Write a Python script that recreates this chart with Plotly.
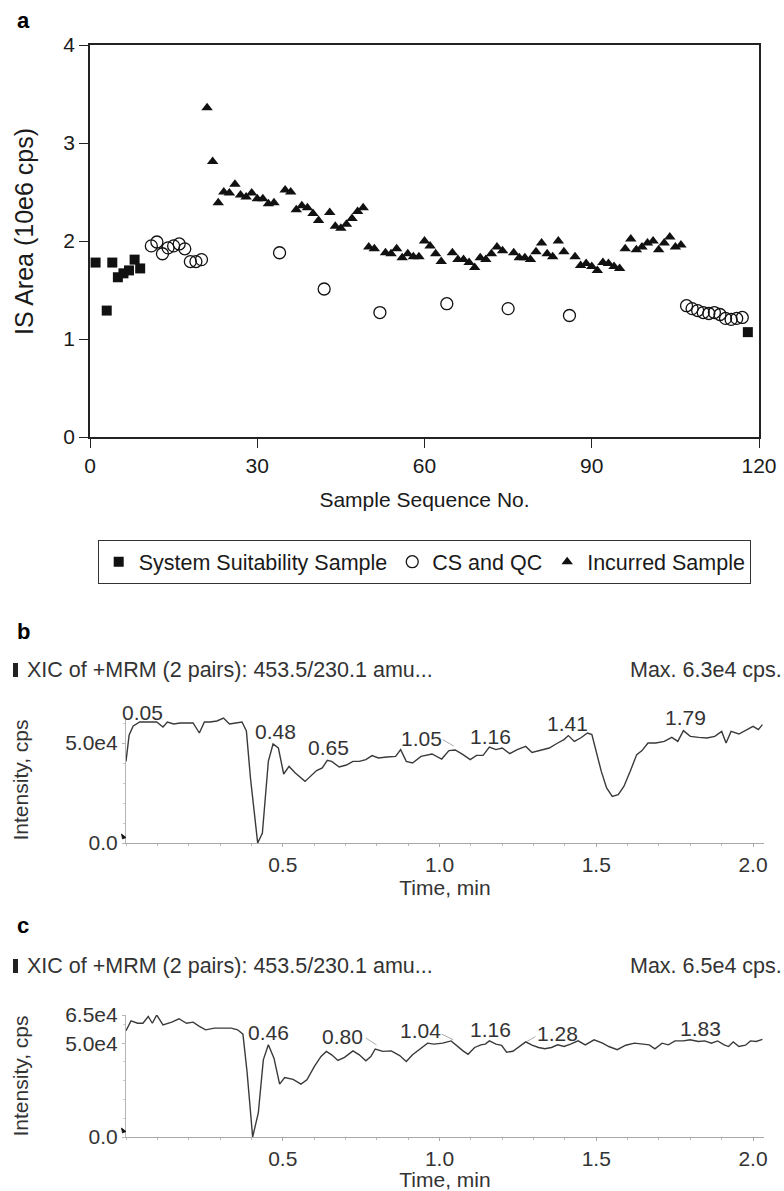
import plotly.graph_objects as go

W, H = 784, 1191

# ---------------- Panel a data ----------------
ss_x = [1, 3, 4, 5, 6, 7, 8, 9, 118]
ss_y = [1.78, 1.29, 1.78, 1.63, 1.67, 1.70, 1.81, 1.72, 1.07]

cs_x = [11, 12, 13, 14, 15, 16, 17, 18, 19, 20, 34, 42, 52, 64, 75, 86,
        107, 108, 109, 110, 111, 112, 113, 114, 115, 116, 117]
cs_y = [1.95, 1.99, 1.87, 1.93, 1.95, 1.97, 1.92, 1.79, 1.79, 1.81, 1.88, 1.51, 1.27, 1.36, 1.31, 1.24,
        1.34, 1.31, 1.29, 1.27, 1.26, 1.27, 1.25, 1.21, 1.20, 1.21, 1.22]

inc_x = [21, 22, 23, 24, 25, 26, 27, 28, 29, 30, 31, 32, 33,
         35, 36, 37, 38, 39, 40, 41, 43, 44, 45, 46, 47, 48, 49, 50, 51,
         53, 54, 55, 56, 57, 58, 59, 60, 61, 62, 63,
         65, 66, 67, 68, 69, 70, 71, 72, 73, 74,
         76, 77, 78, 79, 80, 81, 82, 83, 84, 85,
         87, 88, 89, 90, 91, 92, 93, 94, 95, 96, 97, 98, 99, 100, 101, 102, 103, 104, 105, 106]
inc_y = [3.36, 2.81, 2.39, 2.50, 2.49, 2.58, 2.47, 2.45, 2.49, 2.43, 2.43, 2.38, 2.39,
         2.52, 2.50, 2.32, 2.36, 2.34, 2.28, 2.21, 2.29, 2.15, 2.13, 2.17, 2.23, 2.30, 2.34, 1.94, 1.92,
         1.88, 1.87, 1.92, 1.83, 1.87, 1.84, 1.84, 2.00, 1.95, 1.87, 1.79,
         1.88, 1.81, 1.81, 1.78, 1.73, 1.83, 1.81, 1.87, 1.94, 1.90,
         1.88, 1.83, 1.83, 1.81, 1.89, 1.98, 1.87, 1.84, 2.00, 1.89,
         1.84, 1.75, 1.77, 1.74, 1.70, 1.78, 1.77, 1.74, 1.72, 1.92, 2.02, 1.91, 1.94, 1.98, 2.00, 1.91, 1.98, 2.04, 1.94, 1.96]

a_xticks = [0, 30, 60, 90, 120]
a_yticks = [0, 1, 2, 3, 4]

# ---------------- Panel b data (time, min / intensity, cps) ----------------
b_t = [0.0, 0.01, 0.023, 0.044, 0.071, 0.098, 0.118, 0.132, 0.152, 0.173, 0.193, 0.214, 0.234, 0.25,
       0.268, 0.29, 0.311, 0.33, 0.35, 0.37, 0.384, 0.397, 0.42, 0.435, 0.454, 0.469, 0.486, 0.503,
       0.52, 0.54, 0.571, 0.588, 0.608, 0.626, 0.642, 0.656, 0.68, 0.703, 0.724, 0.744, 0.765, 0.785,
       0.805, 0.833, 0.86, 0.876, 0.894, 0.914, 0.941, 0.976, 1.007, 1.03, 1.05, 1.075, 1.098, 1.118,
       1.139, 1.159, 1.18, 1.2, 1.224, 1.248, 1.275, 1.295, 1.322, 1.35, 1.377, 1.397, 1.411, 1.43,
       1.45, 1.472, 1.486, 1.5, 1.516, 1.533, 1.551, 1.57, 1.588, 1.608, 1.629, 1.646, 1.665, 1.69,
       1.717, 1.741, 1.76, 1.778, 1.8, 1.827, 1.853, 1.878, 1.9, 1.914, 1.93, 1.955, 1.98, 2.0, 2.017, 2.03]
b_i = [40800, 54000, 58500, 60500, 60500, 60500, 58000, 60500, 59500, 60000, 60000, 60000, 55000, 60500,
       60500, 61000, 62500, 59500, 60000, 60500, 56000, 32500, 0, 5000, 40800, 49500, 47500, 34500,
       38300, 35000, 30800, 33300, 36200, 37500, 41300, 40800, 38000, 39000, 40800, 40800, 41700, 43700,
       42500, 43000, 43300, 46700, 40800, 40000, 43300, 44500, 42000, 46200, 46500, 44200, 41700, 43800,
       43800, 48000, 46700, 47500, 44700, 46700, 48300, 45300, 46200, 47500, 50000, 51700, 53700, 50800,
       52500, 55000, 54200, 45800, 35800, 27500, 23300, 24200, 28300, 35800, 44200, 46200, 50000, 50000,
       50800, 52800, 50800, 56200, 53300, 52800, 52500, 53300, 55800, 50000, 55800, 54500, 56700, 58300, 56700, 59200]
b_peak_t = [0.054, 0.476, 0.647, 0.944, 1.163, 1.408, 1.785]
b_peak_i = [65500, 55800, 47700, 52500, 53300, 60000, 62800]
b_peak_txt = ["0.05", "0.48", "0.65", "1.05", "1.16", "1.41", "1.79"]
b_top = 63000
b_yticks = [0, 50000]
b_yticktext = ["0.0", "5.0e4"]

# ---------------- Panel c data ----------------
c_t = [0.0, 0.016, 0.037, 0.054, 0.071, 0.084, 0.098, 0.118, 0.146, 0.169, 0.193, 0.214, 0.234, 0.254,
       0.282, 0.309, 0.336, 0.356, 0.373, 0.386, 0.404, 0.422, 0.438, 0.454, 0.472, 0.49, 0.506, 0.533,
       0.558, 0.577, 0.601, 0.622, 0.639, 0.656, 0.676, 0.697, 0.724, 0.744, 0.765, 0.781, 0.795, 0.819,
       0.846, 0.873, 0.894, 0.914, 0.941, 0.962, 0.982, 1.01, 1.037, 1.057, 1.075, 1.091, 1.112, 1.132,
       1.146, 1.159, 1.18, 1.198, 1.214, 1.234, 1.255, 1.275, 1.295, 1.316, 1.336, 1.357, 1.377, 1.397,
       1.418, 1.442, 1.465, 1.493, 1.52, 1.54, 1.567, 1.594, 1.622, 1.649, 1.669, 1.687, 1.71, 1.73,
       1.751, 1.778, 1.799, 1.826, 1.846, 1.867, 1.887, 1.908, 1.922, 1.937, 1.955, 1.976, 1.992, 2.01, 2.03]
c_i = [56600, 61900, 60600, 60600, 64200, 60600, 65000, 59700, 61200, 63000, 60600, 61200, 58900, 57100,
       58000, 58000, 58000, 57100, 54800, 34900, 0, 12800, 41100, 49100, 42000, 28200, 31700, 30700,
       28200, 30500, 37600, 42900, 45600, 43800, 40800, 42400, 45900, 43800, 40600, 42900, 46900, 45600,
       45900, 43400, 40200, 43800, 47300, 50000, 49500, 50000, 51200, 48200, 45900, 44100, 47700, 49100,
       49500, 51200, 49500, 48800, 45200, 45700, 48400, 50700, 48900, 47700, 47000, 47700, 49100, 48200,
       49500, 51200, 49100, 51800, 50000, 48200, 46500, 48900, 50000, 49500, 49100, 47000, 50000, 49100,
       51200, 51200, 51800, 50900, 51200, 50000, 51200, 49100, 48200, 50700, 48200, 48900, 51200, 50900, 52000]
c_peak_t = [0.454, 0.692, 0.939, 1.163, 1.377, 1.833]
c_peak_i = [55500, 53500, 56600, 57100, 55300, 58000]
c_peak_txt = ["0.46", "0.80", "1.04", "1.16", "1.28", "1.83"]
c_top = 65000
c_yticks = [0, 50000, 65000]
c_yticktext = ["0.0", "5.0e4", "6.5e4"]

time_ticks = [0.5, 1.0, 1.5, 2.0]
time_ticktext = ["0.5", "1.0", "1.5", "2.0"]

# leader lines (label -> peak) for the chromatograms
b_leaders = [((1.01, 51700), (1.045, 48500))]
c_leaders = [((0.765, 52700), (0.799, 49100)), ((1.007, 54800), (1.044, 51800)), ((1.279, 50900), (1.306, 53500))]

header_txt = "XIC of +MRM (2 pairs): 453.5/230.1 amu..."
b_max_txt = "Max. 6.3e4 cps."
c_max_txt = "Max. 6.5e4 cps."

FONT = "Liberation Sans, Arial, Helvetica, sans-serif"
TXT = "#1a1a1a"
GRAY = "#333333"

# pixel layout of the three panels
A_X0, A_X1, A_Y0, A_Y1 = 90, 759, 45, 437
C_X0, C_X1 = 126, 764
B_Y0, B_Y1 = 717, 843
CC_Y0, CC_Y1 = 1015, 1137


def px(x):
    return x / W


def py(y):
    return 1 - y / H


fig = go.Figure()
fig.add_trace(go.Scatter(x=ss_x, y=ss_y, mode="markers", name="System Suitability Sample",
                         marker=dict(symbol="square", size=10, color="#111111"), xaxis="x", yaxis="y"))
fig.add_trace(go.Scatter(x=cs_x, y=cs_y, mode="markers", name="CS and QC",
                         marker=dict(symbol="circle-open", size=12, color="#111111", line=dict(width=1.3)),
                         xaxis="x", yaxis="y"))
fig.add_trace(go.Scatter(x=inc_x, y=inc_y, mode="markers", name="Incurred Sample",
                         marker=dict(symbol="triangle-up", size=10, color="#111111"), xaxis="x", yaxis="y"))
fig.add_trace(go.Scatter(x=b_t, y=b_i, mode="lines", line=dict(color="#3a3a3a", width=1.4),
                         xaxis="x2", yaxis="y2", showlegend=False, hoverinfo="skip"))
fig.add_trace(go.Scatter(x=c_t, y=c_i, mode="lines", line=dict(color="#3a3a3a", width=1.4),
                         xaxis="x3", yaxis="y3", showlegend=False, hoverinfo="skip"))

axis_a = dict(showline=True, linecolor="#222222", linewidth=1.5, mirror=True, ticks="outside",
              ticklen=9, tickwidth=1.3, tickcolor="#222222", showgrid=False, zeroline=False,
              tickfont=dict(size=21, color=TXT, family=FONT), automargin=False)

fig.update_layout(
    width=W, height=H, margin=dict(l=0, r=0, t=0, b=0),
    paper_bgcolor="white", plot_bgcolor="white",
    font=dict(family=FONT, color=TXT),
    xaxis=dict(axis_a, domain=[px(A_X0), px(A_X1)], range=[0, 120], tickmode="array", tickvals=a_xticks,
               anchor="y", title=dict(text="Sample Sequence No.", font=dict(size=21, color=TXT), standoff=16)),
    yaxis=dict(axis_a, domain=[py(A_Y1), py(A_Y0)], range=[0, 4], tickmode="array", tickvals=a_yticks,
               anchor="x"),
    legend=dict(orientation="h", x=px((A_X0 + A_X1) / 2), xanchor="center", y=py(540), yanchor="top",
                bordercolor="#333333", borderwidth=1.2, font=dict(size=21.5, color=TXT, family=FONT),
                itemclick=False, bgcolor="white", itemwidth=30),
)


def chrom_x(anchor):
    return dict(domain=[px(C_X0), px(C_X1)], range=[0, 2.035], anchor=anchor, tickmode="array",
                tickvals=time_ticks, ticktext=time_ticktext, showline=True, linecolor="#a8a8a8",
                linewidth=1.2, ticks="outside", ticklen=3, tickcolor="#a8a8a8", showgrid=False,
                zeroline=False, minor=dict(dtick=0.1, tick0=0, ticks="outside", ticklen=2, tickcolor="#bbbbbb"),
                tickfont=dict(size=21, color=GRAY, family=FONT), automargin=False,
                title=dict(text="Time, min", font=dict(size=21, color=GRAY), standoff=3))


def chrom_y(y0, y1, anchor, top, vals, txt):
    return dict(domain=[py(y1), py(y0)], range=[0, top], anchor=anchor, tickmode="array", tickvals=vals,
                ticktext=txt, showline=True, linecolor="#b5b5b5", linewidth=1.2, ticks="outside", ticklen=3,
                tickcolor="#b5b5b5", showgrid=False, zeroline=False,
                minor=dict(dtick=10000, tick0=0, ticks="outside", ticklen=2, tickcolor="#cccccc"),
                tickfont=dict(size=21, color=GRAY, family=FONT), automargin=False,
                title=dict(text="Intensity, cps", font=dict(size=21, color=GRAY), standoff=30))


fig.update_layout(
    xaxis2=chrom_x("y2"),
    yaxis2=chrom_y(B_Y0, B_Y1, "x2", b_top, b_yticks, b_yticktext),
    xaxis3=chrom_x("y3"),
    yaxis3=chrom_y(CC_Y0, CC_Y1, "x3", c_top, c_yticks, c_yticktext),
)

ann = []
# y-axis title of panel a (placed as rotated text to match the original position)
ann.append(dict(text="IS Area (10e6 cps)", x=px(24), y=py(232), xref="paper", yref="paper",
                textangle=-90, showarrow=False, xanchor="center", yanchor="middle",
                font=dict(size=25, color=TXT)))
for lab, yy in [("a", 20), ("b", 631), ("c", 925)]:
    ann.append(dict(text="<b>%s</b>" % lab, x=px(15), y=py(yy), xref="paper", yref="paper",
                    xanchor="left", yanchor="middle", showarrow=False, font=dict(size=22, color="#000")))
for yy, mtxt in [(670, b_max_txt), (966, c_max_txt)]:
    ann.append(dict(text=header_txt, x=px(25), y=py(yy), xref="paper", yref="paper", xanchor="left",
                    yanchor="middle", showarrow=False, font=dict(size=21.5, color=GRAY)))
    ann.append(dict(text=mtxt, x=px(784), y=py(yy), xref="paper", yref="paper", xanchor="right",
                    yanchor="middle", showarrow=False, font=dict(size=21.5, color=GRAY)))


def peak_labels(ts, ints, txts, xref, yref, top, y0, y1):
    ppu = (y1 - y0) / top  # pixels per cps
    out = []
    for t, i, s in zip(ts, ints, txts):
        yy = min(i, top)
        out.append(dict(text=s, x=t, y=yy, yshift=(i - yy) * ppu, xref=xref, yref=yref, showarrow=False,
                        font=dict(size=21, color=GRAY)))
    return out


ann += peak_labels(b_peak_t, b_peak_i, b_peak_txt, "x2", "y2", b_top, B_Y0, B_Y1)
ann += peak_labels(c_peak_t, c_peak_i, c_peak_txt, "x3", "y3", c_top, CC_Y0, CC_Y1)

shapes = []
for (p0, p1) in b_leaders:
    shapes.append(dict(type="line", xref="x2", yref="y2", x0=p0[0], y0=p0[1], x1=p1[0], y1=p1[1],
                       line=dict(color="#aaaaaa", width=1)))
for (p0, p1) in c_leaders:
    shapes.append(dict(type="line", xref="x3", yref="y3", x0=p0[0], y0=p0[1], x1=p1[0], y1=p1[1],
                       line=dict(color="#aaaaaa", width=1)))
# small black bars before the XIC headers
for yy in (670, 966):
    shapes.append(dict(type="rect", xref="paper", yref="paper", x0=px(13), x1=px(18), y0=py(yy + 7),
                       y1=py(yy - 7), fillcolor="#222222", line=dict(width=0)))
# small origin markers next to the "0.0" tick labels
for base in (B_Y1, CC_Y1):
    path = "M %f,%f L %f,%f L %f,%f Z" % (px(121.5), py(base - 9), px(126), py(base - 5.5),
                                          px(122.5), py(base - 4))
    shapes.append(dict(type="path", xref="paper", yref="paper", path=path, fillcolor="#111111",
                       line=dict(color="#111111", width=0.8)))

fig.update_layout(annotations=ann, shapes=shapes)
fig.write_html("out.html")
